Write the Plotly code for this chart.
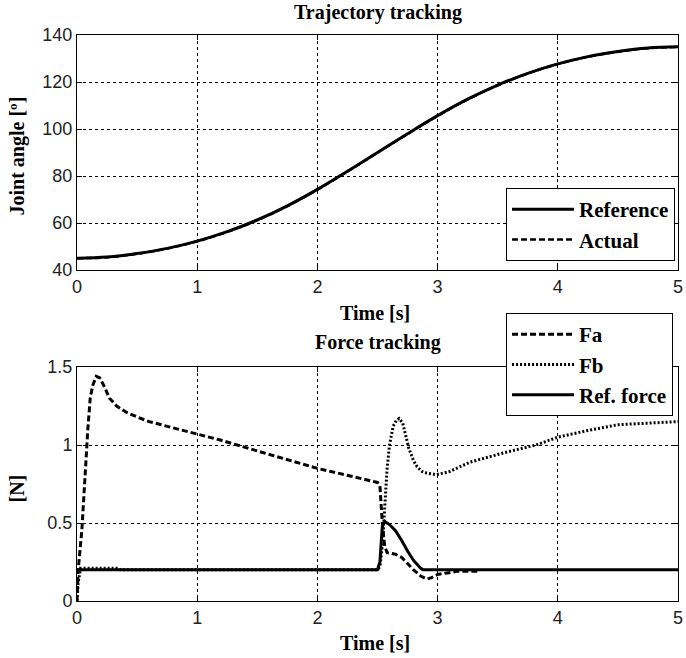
import plotly.graph_objects as go

# ---------------- data ----------------
t_traj = [0, 0.25, 0.5, 0.75, 1.0, 1.25, 1.5, 1.75, 2.0, 2.25, 2.5, 2.75, 3.0,
          3.25, 3.5, 3.75, 4.0, 4.25, 4.5, 4.75, 5.0]
angle_ref = [45, 45.5, 47, 49.2, 52.3, 56.3, 61.3, 67.3, 74.3, 82, 90, 98, 105.7,
             112.7, 118.7, 123.7, 127.7, 130.8, 133, 134.5, 135]
angle_act = [45, 45.4, 46.9, 49.1, 52.2, 56.2, 61.2, 67.2, 74.2, 81.9, 89.9, 97.9, 105.6,
             112.6, 118.6, 123.6, 127.6, 130.7, 132.9, 134.4, 134.9]

t_fa = [0, 0.01, 0.04, 0.07, 0.09, 0.11, 0.13, 0.16, 0.19, 0.23, 0.27, 0.33, 0.41,
        0.5, 0.6, 0.8, 1.0, 1.2, 1.42, 1.6, 1.84, 2.0, 2.17, 2.34, 2.5, 2.52, 2.53,
        2.54, 2.56, 2.58, 2.65, 2.7, 2.75, 2.8, 2.86, 2.91, 2.95, 3.0, 3.08, 3.16, 3.33]
fa = [0, 0.2, 0.45, 0.85, 1.1, 1.3, 1.38, 1.44, 1.43, 1.37, 1.30, 1.25, 1.21,
      1.18, 1.15, 1.11, 1.07, 1.03, 0.98, 0.94, 0.89, 0.85, 0.82, 0.79, 0.76, 0.74, 0.6,
      0.5, 0.35, 0.31, 0.30, 0.28, 0.24, 0.2, 0.16, 0.14, 0.15, 0.17, 0.18, 0.19, 0.19]

t_fb = [0, 0.01, 0.03, 0.1, 0.2, 0.35, 0.36, 1.0, 2.0, 2.5, 2.52, 2.54, 2.56, 2.58,
        2.6, 2.63, 2.66, 2.68, 2.71, 2.76, 2.8, 2.83, 2.87, 2.91, 2.99, 3.1, 3.27,
        3.55, 3.82, 4.0, 4.23, 4.5, 4.75, 5.0]
fb = [0, 0.12, 0.21, 0.21, 0.21, 0.21, 0.2, 0.2, 0.2, 0.2, 0.22, 0.35, 0.6, 0.85,
      1.0, 1.12, 1.16, 1.17, 1.14, 0.98, 0.9, 0.86, 0.83, 0.82, 0.81, 0.83, 0.89,
      0.95, 1.0, 1.05, 1.09, 1.13, 1.14, 1.15]

t_ref = [0, 2.5, 2.52, 2.54, 2.56, 2.6, 2.65, 2.7, 2.75, 2.8, 2.86, 2.88, 5.0]
ref_force = [0.2, 0.2, 0.25, 0.48, 0.51, 0.49, 0.45, 0.39, 0.32, 0.26, 0.21, 0.2, 0.2]

x_ticks = [0, 1, 2, 3, 4, 5]
y1_ticks = [40, 60, 80, 100, 120, 140]
y2_ticks = [0, 0.5, 1, 1.5]
y2_ticklabels = ["0", "0.5", "1", "1.5"]

# ---------------- geometry helpers ----------------
W, H = 686, 658
L, R, T, B = 77, 3, 35, 57
PW, PH = W - L - R, H - T - B


def px(x):
    return (x - L) / PW


def py(y):
    return (H - B - y) / PH


SERIF = "Liberation Serif"
SANS = "Liberation Sans"

fig = go.Figure()

fig.add_trace(go.Scatter(x=t_traj, y=angle_ref, mode="lines", name="Reference",
                         line=dict(color="black", width=3, shape="spline"),
                         xaxis="x", yaxis="y", legend="legend"))
fig.add_trace(go.Scatter(x=t_traj, y=angle_act, mode="lines", name="Actual",
                         line=dict(color="black", width=2.5, dash="6px,3px", shape="spline"),
                         xaxis="x", yaxis="y", legend="legend"))

fig.add_trace(go.Scatter(x=t_fa, y=fa, mode="lines", name="Fa",
                         line=dict(color="black", width=3, dash="6px,3px"),
                         xaxis="x2", yaxis="y2", legend="legend2"))
fig.add_trace(go.Scatter(x=t_fb, y=fb, mode="lines", name="Fb",
                         line=dict(color="black", width=3, dash="2px,2px"),
                         xaxis="x2", yaxis="y2", legend="legend2"))
fig.add_trace(go.Scatter(x=t_ref, y=ref_force, mode="lines", name="Ref. force",
                         line=dict(color="black", width=3),
                         xaxis="x2", yaxis="y2", legend="legend2"))

axis_common = dict(showline=True, linecolor="black", linewidth=1, mirror="ticks",
                   ticks="inside", ticklen=5, tickcolor="black",
                   showgrid=True, gridcolor="black", gridwidth=1, griddash="3px,3px",
                   zeroline=False, ticklabeloverflow="allow",
                   tickfont=dict(family=SANS, size=18, color="#222"))

top_dom = [py(270), 1.0]
bot_dom = [0.0, py(367)]

legend_font = dict(family=SERIF, size=21, color="black", weight="bold")

fig.update_layout(
    width=W, height=H,
    margin=dict(l=L, r=R, t=T, b=B),
    paper_bgcolor="white", plot_bgcolor="white",
    xaxis=dict(domain=[0, 1], anchor="y", range=[0, 5], tickvals=x_ticks, **axis_common),
    yaxis=dict(domain=top_dom, anchor="x", range=[40, 140], tickvals=y1_ticks, **axis_common),
    xaxis2=dict(domain=[0, 1], anchor="y2", range=[0, 5], tickvals=x_ticks, **axis_common),
    yaxis2=dict(domain=bot_dom, anchor="x2", range=[0, 1.5], tickvals=y2_ticks,
                ticktext=y2_ticklabels, **axis_common),
    legend=dict(x=px(680), y=py(261), xanchor="right", yanchor="bottom",
                bgcolor="white", bordercolor="black", borderwidth=1,
                font=legend_font, tracegroupgap=0, itemwidth=62),
    legend2=dict(x=px(678), y=py(313), xanchor="right", yanchor="top",
                 bgcolor="white", bordercolor="black", borderwidth=1,
                 font=legend_font, tracegroupgap=0, itemwidth=62),
    showlegend=True,
)

ann_font = dict(family=SERIF, size=20, color="black", weight="bold")
annotations = [
    dict(text="Trajectory tracking", x=px(380), y=py(13)),
    dict(text="Time [s]", x=px(377), y=py(313)),
    dict(text="Force tracking", x=px(380), y=py(342)),
    dict(text="Time [s]", x=px(377), y=py(643)),
]
for a in annotations:
    fig.add_annotation(xref="paper", yref="paper", showarrow=False,
                       xanchor="center", yanchor="middle", font=ann_font, **a)
for text, yc in [("Joint angle [º]", 156), ("[N]", 488)]:
    fig.add_annotation(xref="paper", yref="paper", showarrow=False, text=text,
                       x=px(17), y=py(yc), xanchor="center", yanchor="middle",
                       textangle=-90, font=ann_font)

fig.write_html("out.html")
